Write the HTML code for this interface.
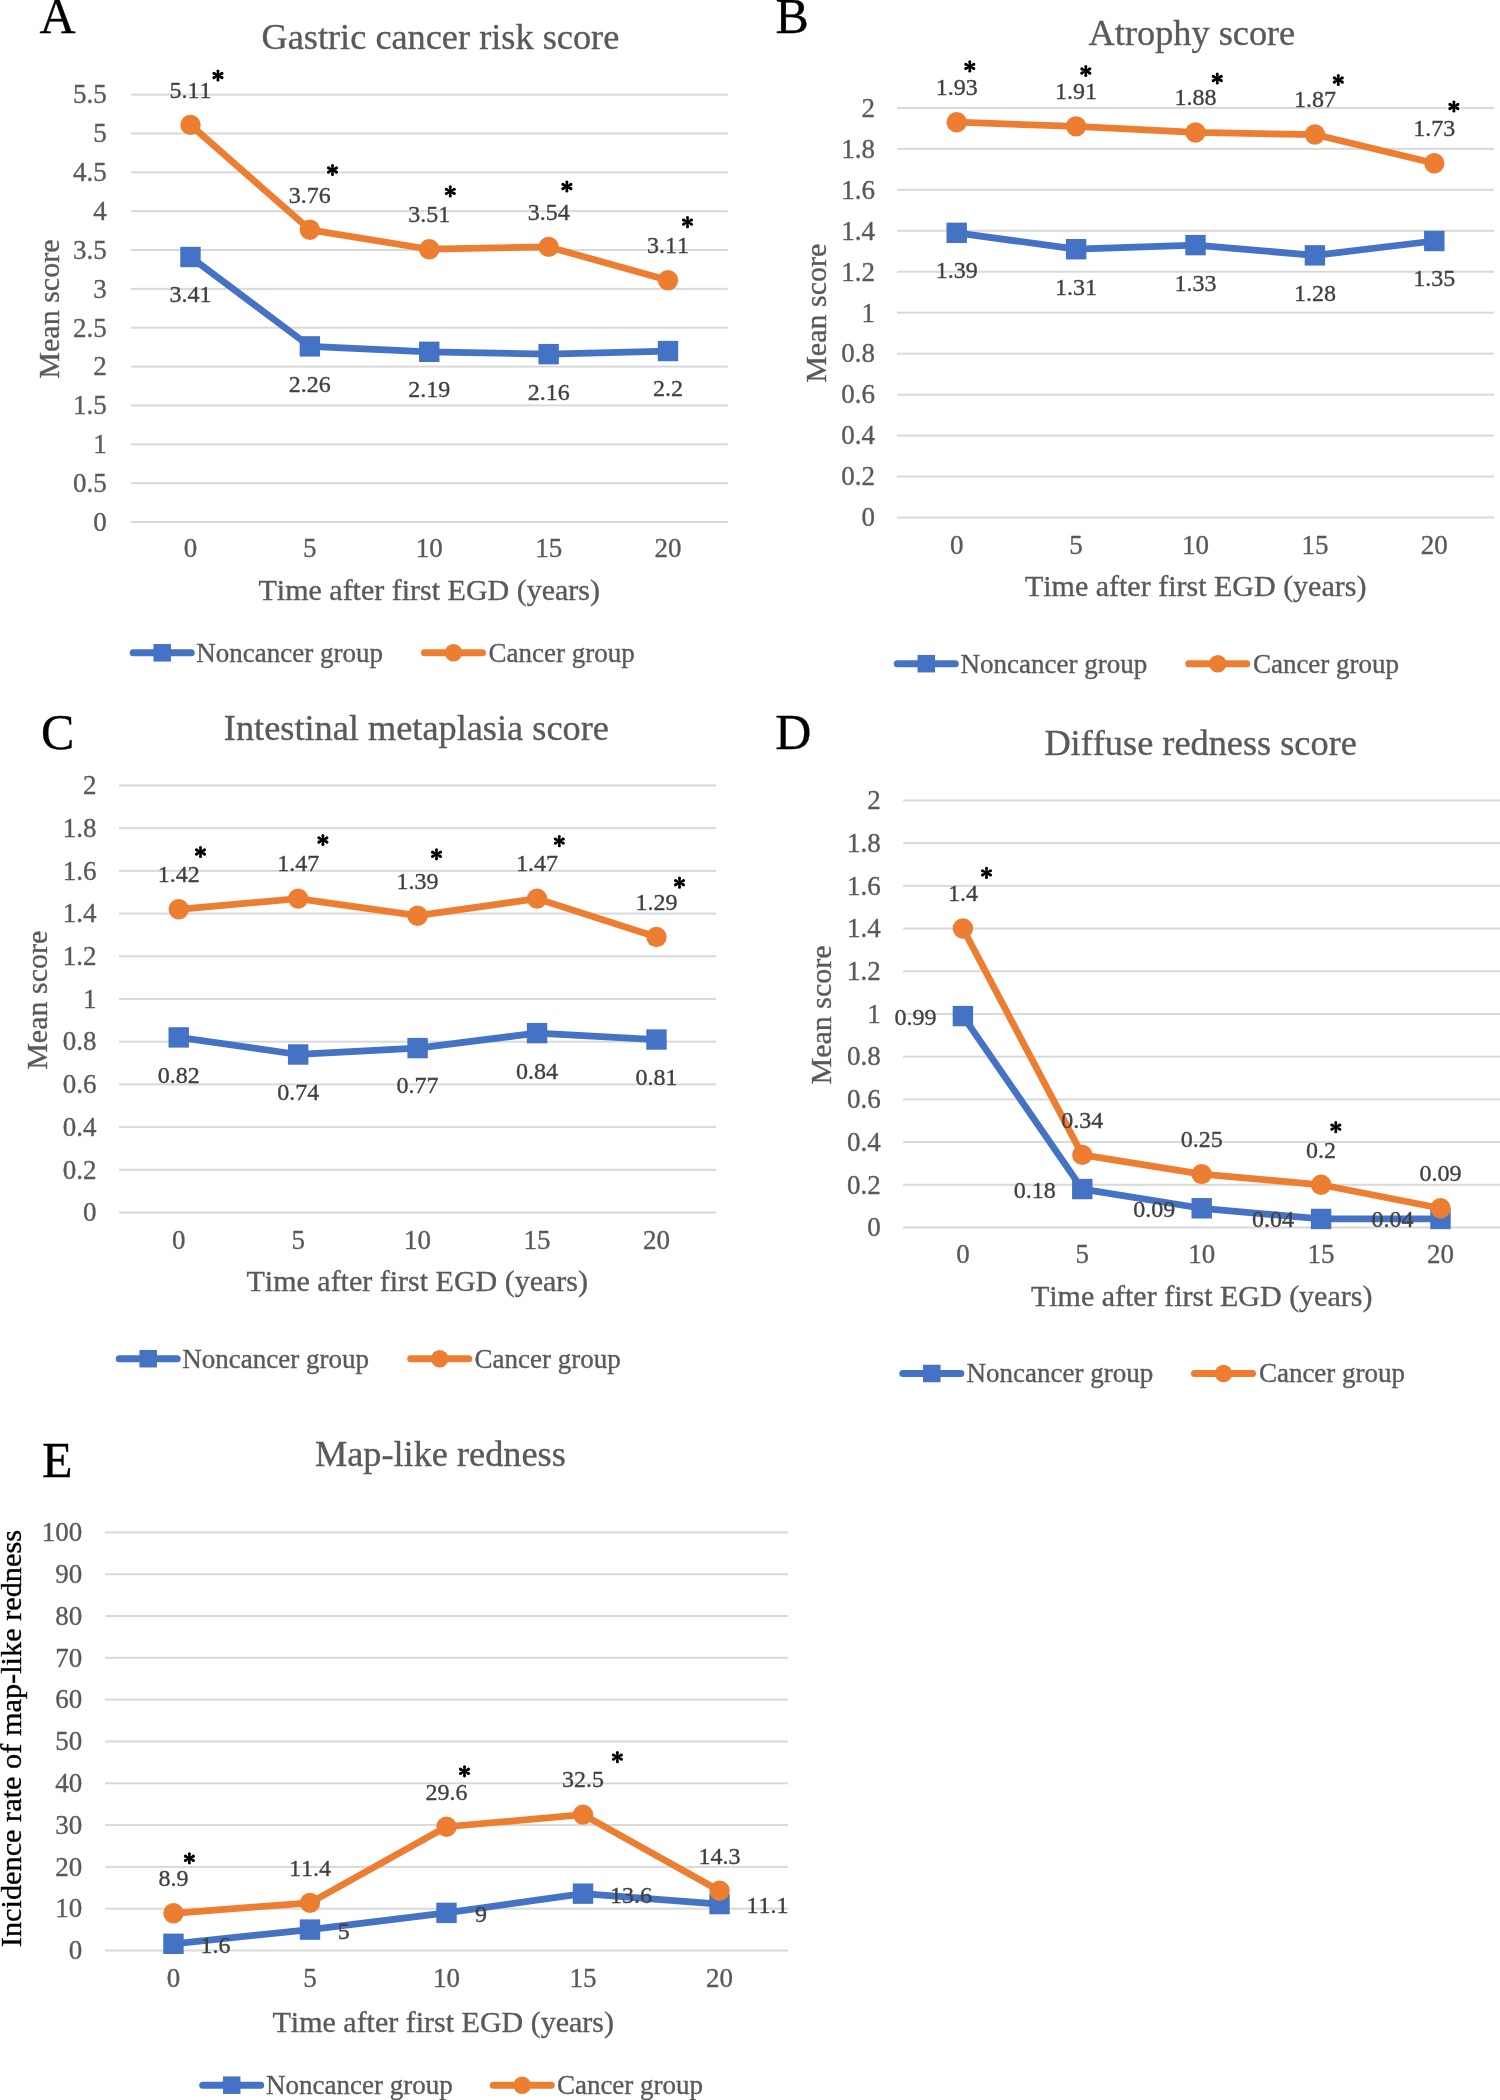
<!DOCTYPE html>
<html><head><meta charset="utf-8"><style>
html,body{margin:0;padding:0;background:#fff;width:1500px;height:2100px;overflow:hidden;}
svg{display:block;font-family:"Liberation Serif", serif;font-kerning:none;will-change:transform;}
text{stroke:currentColor;stroke-width:0.35px;stroke-linejoin:round;}
</style></head><body>
<svg width="1500" height="2100" viewBox="0 0 1500 2100">
<rect width="1500" height="2100" fill="#fff"/>
<rect x="130.8" y="521.00" width="596.90" height="2" fill="#D9D9D9"/>
<rect x="130.8" y="482.15" width="596.90" height="2" fill="#D9D9D9"/>
<rect x="130.8" y="443.29" width="596.90" height="2" fill="#D9D9D9"/>
<rect x="130.8" y="404.44" width="596.90" height="2" fill="#D9D9D9"/>
<rect x="130.8" y="365.58" width="596.90" height="2" fill="#D9D9D9"/>
<rect x="130.8" y="326.73" width="596.90" height="2" fill="#D9D9D9"/>
<rect x="130.8" y="287.87" width="596.90" height="2" fill="#D9D9D9"/>
<rect x="130.8" y="249.02" width="596.90" height="2" fill="#D9D9D9"/>
<rect x="130.8" y="210.16" width="596.90" height="2" fill="#D9D9D9"/>
<rect x="130.8" y="171.31" width="596.90" height="2" fill="#D9D9D9"/>
<rect x="130.8" y="132.45" width="596.90" height="2" fill="#D9D9D9"/>
<rect x="130.8" y="93.60" width="596.90" height="2" fill="#D9D9D9"/>
<text x="106.80" y="530.80" font-size="27" fill="#595959" color="#595959" text-anchor="end">0</text>
<text x="106.80" y="491.95" font-size="27" fill="#595959" color="#595959" text-anchor="end">0.5</text>
<text x="106.80" y="453.09" font-size="27" fill="#595959" color="#595959" text-anchor="end">1</text>
<text x="106.80" y="414.24" font-size="27" fill="#595959" color="#595959" text-anchor="end">1.5</text>
<text x="106.80" y="375.38" font-size="27" fill="#595959" color="#595959" text-anchor="end">2</text>
<text x="106.80" y="336.53" font-size="27" fill="#595959" color="#595959" text-anchor="end">2.5</text>
<text x="106.80" y="297.67" font-size="27" fill="#595959" color="#595959" text-anchor="end">3</text>
<text x="106.80" y="258.82" font-size="27" fill="#595959" color="#595959" text-anchor="end">3.5</text>
<text x="106.80" y="219.96" font-size="27" fill="#595959" color="#595959" text-anchor="end">4</text>
<text x="106.80" y="181.11" font-size="27" fill="#595959" color="#595959" text-anchor="end">4.5</text>
<text x="106.80" y="142.25" font-size="27" fill="#595959" color="#595959" text-anchor="end">5</text>
<text x="106.80" y="103.40" font-size="27" fill="#595959" color="#595959" text-anchor="end">5.5</text>
<text x="190.49" y="557.20" font-size="27" fill="#595959" color="#595959" text-anchor="middle">0</text>
<text x="309.87" y="557.20" font-size="27" fill="#595959" color="#595959" text-anchor="middle">5</text>
<text x="429.25" y="557.20" font-size="27" fill="#595959" color="#595959" text-anchor="middle">10</text>
<text x="548.63" y="557.20" font-size="27" fill="#595959" color="#595959" text-anchor="middle">15</text>
<text x="668.01" y="557.20" font-size="27" fill="#595959" color="#595959" text-anchor="middle">20</text>
<text x="258.50" y="600.10" font-size="30" fill="#595959" color="#595959" text-anchor="start">Time after first EGD (years)</text>
<text transform="translate(59.00,309.10) rotate(-90)" font-size="30" fill="#595959" color="#595959" text-anchor="middle">Mean score</text>
<text x="261.50" y="49.30" font-size="36.3" fill="#595959" color="#595959" text-anchor="start">Gastric cancer risk score</text>
<text x="39.50" y="32.80" font-size="50" fill="#000" color="#000" text-anchor="start">A</text>
<path d="M190.49 257.01 L309.87 346.38 L429.25 351.82 L548.63 354.15 L668.01 351.04" stroke="#4472C4" stroke-width="6.75" fill="none" stroke-linejoin="round" stroke-linecap="round"/>
<rect x="180.29" y="246.81" width="20.4" height="20.4" fill="#4472C4"/>
<rect x="299.67" y="336.18" width="20.4" height="20.4" fill="#4472C4"/>
<rect x="419.05" y="341.62" width="20.4" height="20.4" fill="#4472C4"/>
<rect x="538.43" y="343.95" width="20.4" height="20.4" fill="#4472C4"/>
<rect x="657.81" y="340.84" width="20.4" height="20.4" fill="#4472C4"/>
<path d="M190.49 124.91 L309.87 229.81 L429.25 249.24 L548.63 246.91 L668.01 280.32" stroke="#ED7D31" stroke-width="6.75" fill="none" stroke-linejoin="round" stroke-linecap="round"/>
<circle cx="190.49" cy="124.91" r="10.2" fill="#ED7D31"/>
<circle cx="309.87" cy="229.81" r="10.2" fill="#ED7D31"/>
<circle cx="429.25" cy="249.24" r="10.2" fill="#ED7D31"/>
<circle cx="548.63" cy="246.91" r="10.2" fill="#ED7D31"/>
<circle cx="668.01" cy="280.32" r="10.2" fill="#ED7D31"/>
<text x="190.49" y="97.71" font-size="24" fill="#404040" color="#404040" text-anchor="middle">5.11</text>
<text x="309.87" y="202.61" font-size="24" fill="#404040" color="#404040" text-anchor="middle">3.76</text>
<text x="429.25" y="222.04" font-size="24" fill="#404040" color="#404040" text-anchor="middle">3.51</text>
<text x="548.63" y="219.71" font-size="24" fill="#404040" color="#404040" text-anchor="middle">3.54</text>
<text x="668.01" y="253.12" font-size="24" fill="#404040" color="#404040" text-anchor="middle">3.11</text>
<text x="190.49" y="302.41" font-size="24" fill="#404040" color="#404040" text-anchor="middle">3.41</text>
<text x="309.87" y="391.78" font-size="24" fill="#404040" color="#404040" text-anchor="middle">2.26</text>
<text x="429.25" y="397.22" font-size="24" fill="#404040" color="#404040" text-anchor="middle">2.19</text>
<text x="548.63" y="399.55" font-size="24" fill="#404040" color="#404040" text-anchor="middle">2.16</text>
<text x="668.01" y="396.44" font-size="24" fill="#404040" color="#404040" text-anchor="middle">2.2</text>
<rect x="211.25" y="68.60" width="13.4" height="13.8" fill="#fff"/>
<path d="M218.70 75.50 L219.47 70.95 L216.43 70.95 L217.20 75.50ZM219.50 70.95A1.55 1.55 0 1 0 216.40 70.95A1.55 1.55 0 1 0 219.50 70.95ZM218.30 76.16 L222.68 74.71 L221.25 72.02 L217.60 74.84ZM223.52 73.36A1.55 1.55 0 1 0 220.42 73.36A1.55 1.55 0 1 0 223.52 73.36ZM217.60 76.16 L221.25 78.98 L222.68 76.29 L218.30 74.84ZM223.52 77.64A1.55 1.55 0 1 0 220.42 77.64A1.55 1.55 0 1 0 223.52 77.64ZM217.20 75.50 L216.43 80.05 L219.47 80.05 L218.70 75.50ZM219.50 80.05A1.55 1.55 0 1 0 216.40 80.05A1.55 1.55 0 1 0 219.50 80.05ZM217.60 74.84 L213.22 76.29 L214.65 78.98 L218.30 76.16ZM215.48 77.64A1.55 1.55 0 1 0 212.38 77.64A1.55 1.55 0 1 0 215.48 77.64ZM218.30 74.84 L214.65 72.02 L213.22 74.71 L217.60 76.16ZM215.48 73.36A1.55 1.55 0 1 0 212.38 73.36A1.55 1.55 0 1 0 215.48 73.36Z" fill="#000"/>
<rect x="325.80" y="163.10" width="13.4" height="13.8" fill="#fff"/>
<path d="M333.25 170.00 L334.02 165.45 L330.98 165.45 L331.75 170.00ZM334.05 165.45A1.55 1.55 0 1 0 330.95 165.45A1.55 1.55 0 1 0 334.05 165.45ZM332.85 170.66 L337.23 169.21 L335.80 166.52 L332.15 169.34ZM338.07 167.86A1.55 1.55 0 1 0 334.97 167.86A1.55 1.55 0 1 0 338.07 167.86ZM332.15 170.66 L335.80 173.48 L337.23 170.79 L332.85 169.34ZM338.07 172.14A1.55 1.55 0 1 0 334.97 172.14A1.55 1.55 0 1 0 338.07 172.14ZM331.75 170.00 L330.98 174.55 L334.02 174.55 L333.25 170.00ZM334.05 174.55A1.55 1.55 0 1 0 330.95 174.55A1.55 1.55 0 1 0 334.05 174.55ZM332.15 169.34 L327.77 170.79 L329.20 173.48 L332.85 170.66ZM330.03 172.14A1.55 1.55 0 1 0 326.93 172.14A1.55 1.55 0 1 0 330.03 172.14ZM332.85 169.34 L329.20 166.52 L327.77 169.21 L332.15 170.66ZM330.03 167.86A1.55 1.55 0 1 0 326.93 167.86A1.55 1.55 0 1 0 330.03 167.86Z" fill="#000"/>
<rect x="443.60" y="184.50" width="13.4" height="13.8" fill="#fff"/>
<path d="M451.05 191.40 L451.82 186.85 L448.78 186.85 L449.55 191.40ZM451.85 186.85A1.55 1.55 0 1 0 448.75 186.85A1.55 1.55 0 1 0 451.85 186.85ZM450.65 192.06 L455.03 190.61 L453.60 187.92 L449.95 190.74ZM455.87 189.26A1.55 1.55 0 1 0 452.77 189.26A1.55 1.55 0 1 0 455.87 189.26ZM449.95 192.06 L453.60 194.88 L455.03 192.19 L450.65 190.74ZM455.87 193.54A1.55 1.55 0 1 0 452.77 193.54A1.55 1.55 0 1 0 455.87 193.54ZM449.55 191.40 L448.78 195.95 L451.82 195.95 L451.05 191.40ZM451.85 195.95A1.55 1.55 0 1 0 448.75 195.95A1.55 1.55 0 1 0 451.85 195.95ZM449.95 190.74 L445.57 192.19 L447.00 194.88 L450.65 192.06ZM447.83 193.54A1.55 1.55 0 1 0 444.73 193.54A1.55 1.55 0 1 0 447.83 193.54ZM450.65 190.74 L447.00 187.92 L445.57 190.61 L449.95 192.06ZM447.83 189.26A1.55 1.55 0 1 0 444.73 189.26A1.55 1.55 0 1 0 447.83 189.26Z" fill="#000"/>
<rect x="560.20" y="179.60" width="13.4" height="13.8" fill="#fff"/>
<path d="M567.65 186.50 L568.42 181.95 L565.38 181.95 L566.15 186.50ZM568.45 181.95A1.55 1.55 0 1 0 565.35 181.95A1.55 1.55 0 1 0 568.45 181.95ZM567.25 187.16 L571.63 185.71 L570.20 183.02 L566.55 185.84ZM572.47 184.36A1.55 1.55 0 1 0 569.37 184.36A1.55 1.55 0 1 0 572.47 184.36ZM566.55 187.16 L570.20 189.98 L571.63 187.29 L567.25 185.84ZM572.47 188.64A1.55 1.55 0 1 0 569.37 188.64A1.55 1.55 0 1 0 572.47 188.64ZM566.15 186.50 L565.38 191.05 L568.42 191.05 L567.65 186.50ZM568.45 191.05A1.55 1.55 0 1 0 565.35 191.05A1.55 1.55 0 1 0 568.45 191.05ZM566.55 185.84 L562.17 187.29 L563.60 189.98 L567.25 187.16ZM564.43 188.64A1.55 1.55 0 1 0 561.33 188.64A1.55 1.55 0 1 0 564.43 188.64ZM567.25 185.84 L563.60 183.02 L562.17 185.71 L566.55 187.16ZM564.43 184.36A1.55 1.55 0 1 0 561.33 184.36A1.55 1.55 0 1 0 564.43 184.36Z" fill="#000"/>
<rect x="680.80" y="215.20" width="13.4" height="13.8" fill="#fff"/>
<path d="M688.25 222.10 L689.02 217.55 L685.98 217.55 L686.75 222.10ZM689.05 217.55A1.55 1.55 0 1 0 685.95 217.55A1.55 1.55 0 1 0 689.05 217.55ZM687.85 222.76 L692.23 221.31 L690.80 218.62 L687.15 221.44ZM693.07 219.96A1.55 1.55 0 1 0 689.97 219.96A1.55 1.55 0 1 0 693.07 219.96ZM687.15 222.76 L690.80 225.58 L692.23 222.89 L687.85 221.44ZM693.07 224.24A1.55 1.55 0 1 0 689.97 224.24A1.55 1.55 0 1 0 693.07 224.24ZM686.75 222.10 L685.98 226.65 L689.02 226.65 L688.25 222.10ZM689.05 226.65A1.55 1.55 0 1 0 685.95 226.65A1.55 1.55 0 1 0 689.05 226.65ZM687.15 221.44 L682.77 222.89 L684.20 225.58 L687.85 222.76ZM685.03 224.24A1.55 1.55 0 1 0 681.93 224.24A1.55 1.55 0 1 0 685.03 224.24ZM687.85 221.44 L684.20 218.62 L682.77 221.31 L687.15 222.76ZM685.03 219.96A1.55 1.55 0 1 0 681.93 219.96A1.55 1.55 0 1 0 685.03 219.96Z" fill="#000"/>
<line x1="133.2" y1="652.8" x2="191.2" y2="652.8" stroke="#4472C4" stroke-width="7" stroke-linecap="round"/>
<rect x="153.45" y="644.05" width="17.5" height="17.5" fill="#4472C4"/>
<text x="196.25" y="661.70" font-size="27" fill="#595959" color="#595959" text-anchor="start">Noncancer group</text>
<line x1="424.5" y1="652.8" x2="482.5" y2="652.8" stroke="#ED7D31" stroke-width="7" stroke-linecap="round"/>
<circle cx="453.50" cy="652.8" r="8.75" fill="#ED7D31"/>
<text x="488.60" y="661.70" font-size="27" fill="#595959" color="#595959" text-anchor="start">Cancer group</text>
<rect x="897" y="516.50" width="597.00" height="2" fill="#D9D9D9"/>
<rect x="897" y="475.54" width="597.00" height="2" fill="#D9D9D9"/>
<rect x="897" y="434.58" width="597.00" height="2" fill="#D9D9D9"/>
<rect x="897" y="393.62" width="597.00" height="2" fill="#D9D9D9"/>
<rect x="897" y="352.66" width="597.00" height="2" fill="#D9D9D9"/>
<rect x="897" y="311.70" width="597.00" height="2" fill="#D9D9D9"/>
<rect x="897" y="270.74" width="597.00" height="2" fill="#D9D9D9"/>
<rect x="897" y="229.78" width="597.00" height="2" fill="#D9D9D9"/>
<rect x="897" y="188.82" width="597.00" height="2" fill="#D9D9D9"/>
<rect x="897" y="147.86" width="597.00" height="2" fill="#D9D9D9"/>
<rect x="897" y="106.90" width="597.00" height="2" fill="#D9D9D9"/>
<text x="875.10" y="526.30" font-size="27" fill="#595959" color="#595959" text-anchor="end">0</text>
<text x="875.10" y="485.34" font-size="27" fill="#595959" color="#595959" text-anchor="end">0.2</text>
<text x="875.10" y="444.38" font-size="27" fill="#595959" color="#595959" text-anchor="end">0.4</text>
<text x="875.10" y="403.42" font-size="27" fill="#595959" color="#595959" text-anchor="end">0.6</text>
<text x="875.10" y="362.46" font-size="27" fill="#595959" color="#595959" text-anchor="end">0.8</text>
<text x="875.10" y="321.50" font-size="27" fill="#595959" color="#595959" text-anchor="end">1</text>
<text x="875.10" y="280.54" font-size="27" fill="#595959" color="#595959" text-anchor="end">1.2</text>
<text x="875.10" y="239.58" font-size="27" fill="#595959" color="#595959" text-anchor="end">1.4</text>
<text x="875.10" y="198.62" font-size="27" fill="#595959" color="#595959" text-anchor="end">1.6</text>
<text x="875.10" y="157.66" font-size="27" fill="#595959" color="#595959" text-anchor="end">1.8</text>
<text x="875.10" y="116.70" font-size="27" fill="#595959" color="#595959" text-anchor="end">2</text>
<text x="956.70" y="553.50" font-size="27" fill="#595959" color="#595959" text-anchor="middle">0</text>
<text x="1076.10" y="553.50" font-size="27" fill="#595959" color="#595959" text-anchor="middle">5</text>
<text x="1195.50" y="553.50" font-size="27" fill="#595959" color="#595959" text-anchor="middle">10</text>
<text x="1314.90" y="553.50" font-size="27" fill="#595959" color="#595959" text-anchor="middle">15</text>
<text x="1434.30" y="553.50" font-size="27" fill="#595959" color="#595959" text-anchor="middle">20</text>
<text x="1024.90" y="595.80" font-size="30" fill="#595959" color="#595959" text-anchor="start">Time after first EGD (years)</text>
<text transform="translate(825.50,313.30) rotate(-90)" font-size="30" fill="#595959" color="#595959" text-anchor="middle">Mean score</text>
<text x="1088.60" y="44.70" font-size="36.3" fill="#595959" color="#595959" text-anchor="start">Atrophy score</text>
<text x="775.50" y="32.80" font-size="50" fill="#000" color="#000" text-anchor="start">B</text>
<path d="M956.70 232.83 L1076.10 249.21 L1195.50 245.12 L1314.90 255.36 L1434.30 241.02" stroke="#4472C4" stroke-width="6.75" fill="none" stroke-linejoin="round" stroke-linecap="round"/>
<rect x="946.50" y="222.63" width="20.4" height="20.4" fill="#4472C4"/>
<rect x="1065.90" y="239.01" width="20.4" height="20.4" fill="#4472C4"/>
<rect x="1185.30" y="234.92" width="20.4" height="20.4" fill="#4472C4"/>
<rect x="1304.70" y="245.16" width="20.4" height="20.4" fill="#4472C4"/>
<rect x="1424.10" y="230.82" width="20.4" height="20.4" fill="#4472C4"/>
<path d="M956.70 122.24 L1076.10 126.33 L1195.50 132.48 L1314.90 134.52 L1434.30 163.20" stroke="#ED7D31" stroke-width="6.75" fill="none" stroke-linejoin="round" stroke-linecap="round"/>
<circle cx="956.70" cy="122.24" r="10.2" fill="#ED7D31"/>
<circle cx="1076.10" cy="126.33" r="10.2" fill="#ED7D31"/>
<circle cx="1195.50" cy="132.48" r="10.2" fill="#ED7D31"/>
<circle cx="1314.90" cy="134.52" r="10.2" fill="#ED7D31"/>
<circle cx="1434.30" cy="163.20" r="10.2" fill="#ED7D31"/>
<text x="956.70" y="95.04" font-size="24" fill="#404040" color="#404040" text-anchor="middle">1.93</text>
<text x="1076.10" y="99.13" font-size="24" fill="#404040" color="#404040" text-anchor="middle">1.91</text>
<text x="1195.50" y="105.28" font-size="24" fill="#404040" color="#404040" text-anchor="middle">1.88</text>
<text x="1314.90" y="107.32" font-size="24" fill="#404040" color="#404040" text-anchor="middle">1.87</text>
<text x="1434.30" y="136.00" font-size="24" fill="#404040" color="#404040" text-anchor="middle">1.73</text>
<text x="956.70" y="278.23" font-size="24" fill="#404040" color="#404040" text-anchor="middle">1.39</text>
<text x="1076.10" y="294.61" font-size="24" fill="#404040" color="#404040" text-anchor="middle">1.31</text>
<text x="1195.50" y="290.52" font-size="24" fill="#404040" color="#404040" text-anchor="middle">1.33</text>
<text x="1314.90" y="300.76" font-size="24" fill="#404040" color="#404040" text-anchor="middle">1.28</text>
<text x="1434.30" y="286.42" font-size="24" fill="#404040" color="#404040" text-anchor="middle">1.35</text>
<rect x="963.10" y="59.50" width="13.4" height="13.8" fill="#fff"/>
<path d="M970.55 66.40 L971.32 61.85 L968.28 61.85 L969.05 66.40ZM971.35 61.85A1.55 1.55 0 1 0 968.25 61.85A1.55 1.55 0 1 0 971.35 61.85ZM970.15 67.06 L974.53 65.61 L973.10 62.92 L969.45 65.74ZM975.37 64.26A1.55 1.55 0 1 0 972.27 64.26A1.55 1.55 0 1 0 975.37 64.26ZM969.45 67.06 L973.10 69.88 L974.53 67.19 L970.15 65.74ZM975.37 68.54A1.55 1.55 0 1 0 972.27 68.54A1.55 1.55 0 1 0 975.37 68.54ZM969.05 66.40 L968.28 70.95 L971.32 70.95 L970.55 66.40ZM971.35 70.95A1.55 1.55 0 1 0 968.25 70.95A1.55 1.55 0 1 0 971.35 70.95ZM969.45 65.74 L965.07 67.19 L966.50 69.88 L970.15 67.06ZM967.33 68.54A1.55 1.55 0 1 0 964.23 68.54A1.55 1.55 0 1 0 967.33 68.54ZM970.15 65.74 L966.50 62.92 L965.07 65.61 L969.45 67.06ZM967.33 64.26A1.55 1.55 0 1 0 964.23 64.26A1.55 1.55 0 1 0 967.33 64.26Z" fill="#000"/>
<rect x="1079.10" y="64.10" width="13.4" height="13.8" fill="#fff"/>
<path d="M1086.55 71.00 L1087.32 66.45 L1084.28 66.45 L1085.05 71.00ZM1087.35 66.45A1.55 1.55 0 1 0 1084.25 66.45A1.55 1.55 0 1 0 1087.35 66.45ZM1086.15 71.66 L1090.53 70.21 L1089.10 67.52 L1085.45 70.34ZM1091.37 68.86A1.55 1.55 0 1 0 1088.27 68.86A1.55 1.55 0 1 0 1091.37 68.86ZM1085.45 71.66 L1089.10 74.48 L1090.53 71.79 L1086.15 70.34ZM1091.37 73.14A1.55 1.55 0 1 0 1088.27 73.14A1.55 1.55 0 1 0 1091.37 73.14ZM1085.05 71.00 L1084.28 75.55 L1087.32 75.55 L1086.55 71.00ZM1087.35 75.55A1.55 1.55 0 1 0 1084.25 75.55A1.55 1.55 0 1 0 1087.35 75.55ZM1085.45 70.34 L1081.07 71.79 L1082.50 74.48 L1086.15 71.66ZM1083.33 73.14A1.55 1.55 0 1 0 1080.23 73.14A1.55 1.55 0 1 0 1083.33 73.14ZM1086.15 70.34 L1082.50 67.52 L1081.07 70.21 L1085.45 71.66ZM1083.33 68.86A1.55 1.55 0 1 0 1080.23 68.86A1.55 1.55 0 1 0 1083.33 68.86Z" fill="#000"/>
<rect x="1210.60" y="71.60" width="13.4" height="13.8" fill="#fff"/>
<path d="M1218.05 78.50 L1218.82 73.95 L1215.78 73.95 L1216.55 78.50ZM1218.85 73.95A1.55 1.55 0 1 0 1215.75 73.95A1.55 1.55 0 1 0 1218.85 73.95ZM1217.65 79.16 L1222.03 77.71 L1220.60 75.02 L1216.95 77.84ZM1222.87 76.36A1.55 1.55 0 1 0 1219.77 76.36A1.55 1.55 0 1 0 1222.87 76.36ZM1216.95 79.16 L1220.60 81.98 L1222.03 79.29 L1217.65 77.84ZM1222.87 80.64A1.55 1.55 0 1 0 1219.77 80.64A1.55 1.55 0 1 0 1222.87 80.64ZM1216.55 78.50 L1215.78 83.05 L1218.82 83.05 L1218.05 78.50ZM1218.85 83.05A1.55 1.55 0 1 0 1215.75 83.05A1.55 1.55 0 1 0 1218.85 83.05ZM1216.95 77.84 L1212.57 79.29 L1214.00 81.98 L1217.65 79.16ZM1214.83 80.64A1.55 1.55 0 1 0 1211.73 80.64A1.55 1.55 0 1 0 1214.83 80.64ZM1217.65 77.84 L1214.00 75.02 L1212.57 77.71 L1216.95 79.16ZM1214.83 76.36A1.55 1.55 0 1 0 1211.73 76.36A1.55 1.55 0 1 0 1214.83 76.36Z" fill="#000"/>
<rect x="1331.60" y="73.10" width="13.4" height="13.8" fill="#fff"/>
<path d="M1339.05 80.00 L1339.82 75.45 L1336.78 75.45 L1337.55 80.00ZM1339.85 75.45A1.55 1.55 0 1 0 1336.75 75.45A1.55 1.55 0 1 0 1339.85 75.45ZM1338.65 80.66 L1343.03 79.21 L1341.60 76.52 L1337.95 79.34ZM1343.87 77.86A1.55 1.55 0 1 0 1340.77 77.86A1.55 1.55 0 1 0 1343.87 77.86ZM1337.95 80.66 L1341.60 83.48 L1343.03 80.79 L1338.65 79.34ZM1343.87 82.14A1.55 1.55 0 1 0 1340.77 82.14A1.55 1.55 0 1 0 1343.87 82.14ZM1337.55 80.00 L1336.78 84.55 L1339.82 84.55 L1339.05 80.00ZM1339.85 84.55A1.55 1.55 0 1 0 1336.75 84.55A1.55 1.55 0 1 0 1339.85 84.55ZM1337.95 79.34 L1333.57 80.79 L1335.00 83.48 L1338.65 80.66ZM1335.83 82.14A1.55 1.55 0 1 0 1332.73 82.14A1.55 1.55 0 1 0 1335.83 82.14ZM1338.65 79.34 L1335.00 76.52 L1333.57 79.21 L1337.95 80.66ZM1335.83 77.86A1.55 1.55 0 1 0 1332.73 77.86A1.55 1.55 0 1 0 1335.83 77.86Z" fill="#000"/>
<rect x="1447.20" y="99.60" width="13.4" height="13.8" fill="#fff"/>
<path d="M1454.65 106.50 L1455.42 101.95 L1452.38 101.95 L1453.15 106.50ZM1455.45 101.95A1.55 1.55 0 1 0 1452.35 101.95A1.55 1.55 0 1 0 1455.45 101.95ZM1454.25 107.16 L1458.63 105.71 L1457.20 103.02 L1453.55 105.84ZM1459.47 104.36A1.55 1.55 0 1 0 1456.37 104.36A1.55 1.55 0 1 0 1459.47 104.36ZM1453.55 107.16 L1457.20 109.98 L1458.63 107.29 L1454.25 105.84ZM1459.47 108.64A1.55 1.55 0 1 0 1456.37 108.64A1.55 1.55 0 1 0 1459.47 108.64ZM1453.15 106.50 L1452.38 111.05 L1455.42 111.05 L1454.65 106.50ZM1455.45 111.05A1.55 1.55 0 1 0 1452.35 111.05A1.55 1.55 0 1 0 1455.45 111.05ZM1453.55 105.84 L1449.17 107.29 L1450.60 109.98 L1454.25 107.16ZM1451.43 108.64A1.55 1.55 0 1 0 1448.33 108.64A1.55 1.55 0 1 0 1451.43 108.64ZM1454.25 105.84 L1450.60 103.02 L1449.17 105.71 L1453.55 107.16ZM1451.43 104.36A1.55 1.55 0 1 0 1448.33 104.36A1.55 1.55 0 1 0 1451.43 104.36Z" fill="#000"/>
<line x1="897.3" y1="663.7" x2="955.3" y2="663.7" stroke="#4472C4" stroke-width="7" stroke-linecap="round"/>
<rect x="917.55" y="654.95" width="17.5" height="17.5" fill="#4472C4"/>
<text x="960.50" y="672.70" font-size="27" fill="#595959" color="#595959" text-anchor="start">Noncancer group</text>
<line x1="1188.8" y1="663.7" x2="1246.8" y2="663.7" stroke="#ED7D31" stroke-width="7" stroke-linecap="round"/>
<circle cx="1217.80" cy="663.7" r="8.75" fill="#ED7D31"/>
<text x="1252.90" y="672.70" font-size="27" fill="#595959" color="#595959" text-anchor="start">Cancer group</text>
<rect x="119" y="1211.50" width="597.20" height="2" fill="#D9D9D9"/>
<rect x="119" y="1168.80" width="597.20" height="2" fill="#D9D9D9"/>
<rect x="119" y="1126.09" width="597.20" height="2" fill="#D9D9D9"/>
<rect x="119" y="1083.38" width="597.20" height="2" fill="#D9D9D9"/>
<rect x="119" y="1040.68" width="597.20" height="2" fill="#D9D9D9"/>
<rect x="119" y="997.98" width="597.20" height="2" fill="#D9D9D9"/>
<rect x="119" y="955.27" width="597.20" height="2" fill="#D9D9D9"/>
<rect x="119" y="912.57" width="597.20" height="2" fill="#D9D9D9"/>
<rect x="119" y="869.86" width="597.20" height="2" fill="#D9D9D9"/>
<rect x="119" y="827.15" width="597.20" height="2" fill="#D9D9D9"/>
<rect x="119" y="784.45" width="597.20" height="2" fill="#D9D9D9"/>
<text x="96.50" y="1221.30" font-size="27" fill="#595959" color="#595959" text-anchor="end">0</text>
<text x="96.50" y="1178.60" font-size="27" fill="#595959" color="#595959" text-anchor="end">0.2</text>
<text x="96.50" y="1135.89" font-size="27" fill="#595959" color="#595959" text-anchor="end">0.4</text>
<text x="96.50" y="1093.18" font-size="27" fill="#595959" color="#595959" text-anchor="end">0.6</text>
<text x="96.50" y="1050.48" font-size="27" fill="#595959" color="#595959" text-anchor="end">0.8</text>
<text x="96.50" y="1007.77" font-size="27" fill="#595959" color="#595959" text-anchor="end">1</text>
<text x="96.50" y="965.07" font-size="27" fill="#595959" color="#595959" text-anchor="end">1.2</text>
<text x="96.50" y="922.37" font-size="27" fill="#595959" color="#595959" text-anchor="end">1.4</text>
<text x="96.50" y="879.66" font-size="27" fill="#595959" color="#595959" text-anchor="end">1.6</text>
<text x="96.50" y="836.95" font-size="27" fill="#595959" color="#595959" text-anchor="end">1.8</text>
<text x="96.50" y="794.25" font-size="27" fill="#595959" color="#595959" text-anchor="end">2</text>
<text x="178.72" y="1248.50" font-size="27" fill="#595959" color="#595959" text-anchor="middle">0</text>
<text x="298.16" y="1248.50" font-size="27" fill="#595959" color="#595959" text-anchor="middle">5</text>
<text x="417.60" y="1248.50" font-size="27" fill="#595959" color="#595959" text-anchor="middle">10</text>
<text x="537.04" y="1248.50" font-size="27" fill="#595959" color="#595959" text-anchor="middle">15</text>
<text x="656.48" y="1248.50" font-size="27" fill="#595959" color="#595959" text-anchor="middle">20</text>
<text x="246.50" y="1291.00" font-size="30" fill="#595959" color="#595959" text-anchor="start">Time after first EGD (years)</text>
<text transform="translate(47.00,1000.30) rotate(-90)" font-size="30" fill="#595959" color="#595959" text-anchor="middle">Mean score</text>
<text x="223.85" y="739.90" font-size="36.3" fill="#595959" color="#595959" text-anchor="start">Intestinal metaplasia score</text>
<text x="41.00" y="749.30" font-size="50" fill="#000" color="#000" text-anchor="start">C</text>
<path d="M178.72 1037.41 L298.16 1054.49 L417.60 1048.09 L537.04 1033.14 L656.48 1039.54" stroke="#4472C4" stroke-width="6.75" fill="none" stroke-linejoin="round" stroke-linecap="round"/>
<rect x="168.52" y="1027.21" width="20.4" height="20.4" fill="#4472C4"/>
<rect x="287.96" y="1044.29" width="20.4" height="20.4" fill="#4472C4"/>
<rect x="407.40" y="1037.89" width="20.4" height="20.4" fill="#4472C4"/>
<rect x="526.84" y="1022.94" width="20.4" height="20.4" fill="#4472C4"/>
<rect x="646.28" y="1029.34" width="20.4" height="20.4" fill="#4472C4"/>
<path d="M178.72 909.29 L298.16 898.62 L417.60 915.70 L537.04 898.62 L656.48 937.05" stroke="#ED7D31" stroke-width="6.75" fill="none" stroke-linejoin="round" stroke-linecap="round"/>
<circle cx="178.72" cy="909.29" r="10.2" fill="#ED7D31"/>
<circle cx="298.16" cy="898.62" r="10.2" fill="#ED7D31"/>
<circle cx="417.60" cy="915.70" r="10.2" fill="#ED7D31"/>
<circle cx="537.04" cy="898.62" r="10.2" fill="#ED7D31"/>
<circle cx="656.48" cy="937.05" r="10.2" fill="#ED7D31"/>
<text x="178.72" y="882.09" font-size="24" fill="#404040" color="#404040" text-anchor="middle">1.42</text>
<text x="298.16" y="871.42" font-size="24" fill="#404040" color="#404040" text-anchor="middle">1.47</text>
<text x="417.60" y="888.50" font-size="24" fill="#404040" color="#404040" text-anchor="middle">1.39</text>
<text x="537.04" y="871.42" font-size="24" fill="#404040" color="#404040" text-anchor="middle">1.47</text>
<text x="656.48" y="909.85" font-size="24" fill="#404040" color="#404040" text-anchor="middle">1.29</text>
<text x="178.72" y="1082.81" font-size="24" fill="#404040" color="#404040" text-anchor="middle">0.82</text>
<text x="298.16" y="1099.89" font-size="24" fill="#404040" color="#404040" text-anchor="middle">0.74</text>
<text x="417.60" y="1093.49" font-size="24" fill="#404040" color="#404040" text-anchor="middle">0.77</text>
<text x="537.04" y="1078.54" font-size="24" fill="#404040" color="#404040" text-anchor="middle">0.84</text>
<text x="656.48" y="1084.94" font-size="24" fill="#404040" color="#404040" text-anchor="middle">0.81</text>
<rect x="193.80" y="845.10" width="13.4" height="13.8" fill="#fff"/>
<path d="M201.25 852.00 L202.02 847.45 L198.98 847.45 L199.75 852.00ZM202.05 847.45A1.55 1.55 0 1 0 198.95 847.45A1.55 1.55 0 1 0 202.05 847.45ZM200.85 852.66 L205.23 851.21 L203.80 848.52 L200.15 851.34ZM206.07 849.86A1.55 1.55 0 1 0 202.97 849.86A1.55 1.55 0 1 0 206.07 849.86ZM200.15 852.66 L203.80 855.48 L205.23 852.79 L200.85 851.34ZM206.07 854.14A1.55 1.55 0 1 0 202.97 854.14A1.55 1.55 0 1 0 206.07 854.14ZM199.75 852.00 L198.98 856.55 L202.02 856.55 L201.25 852.00ZM202.05 856.55A1.55 1.55 0 1 0 198.95 856.55A1.55 1.55 0 1 0 202.05 856.55ZM200.15 851.34 L195.77 852.79 L197.20 855.48 L200.85 852.66ZM198.03 854.14A1.55 1.55 0 1 0 194.93 854.14A1.55 1.55 0 1 0 198.03 854.14ZM200.85 851.34 L197.20 848.52 L195.77 851.21 L200.15 852.66ZM198.03 849.86A1.55 1.55 0 1 0 194.93 849.86A1.55 1.55 0 1 0 198.03 849.86Z" fill="#000"/>
<rect x="316.20" y="833.10" width="13.4" height="13.8" fill="#fff"/>
<path d="M323.65 840.00 L324.42 835.45 L321.38 835.45 L322.15 840.00ZM324.45 835.45A1.55 1.55 0 1 0 321.35 835.45A1.55 1.55 0 1 0 324.45 835.45ZM323.25 840.66 L327.63 839.21 L326.20 836.52 L322.55 839.34ZM328.47 837.86A1.55 1.55 0 1 0 325.37 837.86A1.55 1.55 0 1 0 328.47 837.86ZM322.55 840.66 L326.20 843.48 L327.63 840.79 L323.25 839.34ZM328.47 842.14A1.55 1.55 0 1 0 325.37 842.14A1.55 1.55 0 1 0 328.47 842.14ZM322.15 840.00 L321.38 844.55 L324.42 844.55 L323.65 840.00ZM324.45 844.55A1.55 1.55 0 1 0 321.35 844.55A1.55 1.55 0 1 0 324.45 844.55ZM322.55 839.34 L318.17 840.79 L319.60 843.48 L323.25 840.66ZM320.43 842.14A1.55 1.55 0 1 0 317.33 842.14A1.55 1.55 0 1 0 320.43 842.14ZM323.25 839.34 L319.60 836.52 L318.17 839.21 L322.55 840.66ZM320.43 837.86A1.55 1.55 0 1 0 317.33 837.86A1.55 1.55 0 1 0 320.43 837.86Z" fill="#000"/>
<rect x="429.80" y="847.40" width="13.4" height="13.8" fill="#fff"/>
<path d="M437.25 854.30 L438.02 849.75 L434.98 849.75 L435.75 854.30ZM438.05 849.75A1.55 1.55 0 1 0 434.95 849.75A1.55 1.55 0 1 0 438.05 849.75ZM436.85 854.96 L441.23 853.51 L439.80 850.82 L436.15 853.64ZM442.07 852.16A1.55 1.55 0 1 0 438.97 852.16A1.55 1.55 0 1 0 442.07 852.16ZM436.15 854.96 L439.80 857.78 L441.23 855.09 L436.85 853.64ZM442.07 856.44A1.55 1.55 0 1 0 438.97 856.44A1.55 1.55 0 1 0 442.07 856.44ZM435.75 854.30 L434.98 858.85 L438.02 858.85 L437.25 854.30ZM438.05 858.85A1.55 1.55 0 1 0 434.95 858.85A1.55 1.55 0 1 0 438.05 858.85ZM436.15 853.64 L431.77 855.09 L433.20 857.78 L436.85 854.96ZM434.03 856.44A1.55 1.55 0 1 0 430.93 856.44A1.55 1.55 0 1 0 434.03 856.44ZM436.85 853.64 L433.20 850.82 L431.77 853.51 L436.15 854.96ZM434.03 852.16A1.55 1.55 0 1 0 430.93 852.16A1.55 1.55 0 1 0 434.03 852.16Z" fill="#000"/>
<rect x="552.60" y="834.20" width="13.4" height="13.8" fill="#fff"/>
<path d="M560.05 841.10 L560.82 836.55 L557.78 836.55 L558.55 841.10ZM560.85 836.55A1.55 1.55 0 1 0 557.75 836.55A1.55 1.55 0 1 0 560.85 836.55ZM559.65 841.76 L564.03 840.31 L562.60 837.62 L558.95 840.44ZM564.87 838.96A1.55 1.55 0 1 0 561.77 838.96A1.55 1.55 0 1 0 564.87 838.96ZM558.95 841.76 L562.60 844.58 L564.03 841.89 L559.65 840.44ZM564.87 843.24A1.55 1.55 0 1 0 561.77 843.24A1.55 1.55 0 1 0 564.87 843.24ZM558.55 841.10 L557.78 845.65 L560.82 845.65 L560.05 841.10ZM560.85 845.65A1.55 1.55 0 1 0 557.75 845.65A1.55 1.55 0 1 0 560.85 845.65ZM558.95 840.44 L554.57 841.89 L556.00 844.58 L559.65 841.76ZM556.83 843.24A1.55 1.55 0 1 0 553.73 843.24A1.55 1.55 0 1 0 556.83 843.24ZM559.65 840.44 L556.00 837.62 L554.57 840.31 L558.95 841.76ZM556.83 838.96A1.55 1.55 0 1 0 553.73 838.96A1.55 1.55 0 1 0 556.83 838.96Z" fill="#000"/>
<rect x="672.80" y="875.80" width="13.4" height="13.8" fill="#fff"/>
<path d="M680.25 882.70 L681.02 878.15 L677.98 878.15 L678.75 882.70ZM681.05 878.15A1.55 1.55 0 1 0 677.95 878.15A1.55 1.55 0 1 0 681.05 878.15ZM679.85 883.36 L684.23 881.91 L682.80 879.22 L679.15 882.04ZM685.07 880.56A1.55 1.55 0 1 0 681.97 880.56A1.55 1.55 0 1 0 685.07 880.56ZM679.15 883.36 L682.80 886.18 L684.23 883.49 L679.85 882.04ZM685.07 884.84A1.55 1.55 0 1 0 681.97 884.84A1.55 1.55 0 1 0 685.07 884.84ZM678.75 882.70 L677.98 887.25 L681.02 887.25 L680.25 882.70ZM681.05 887.25A1.55 1.55 0 1 0 677.95 887.25A1.55 1.55 0 1 0 681.05 887.25ZM679.15 882.04 L674.77 883.49 L676.20 886.18 L679.85 883.36ZM677.03 884.84A1.55 1.55 0 1 0 673.93 884.84A1.55 1.55 0 1 0 677.03 884.84ZM679.85 882.04 L676.20 879.22 L674.77 881.91 L679.15 883.36ZM677.03 880.56A1.55 1.55 0 1 0 673.93 880.56A1.55 1.55 0 1 0 677.03 880.56Z" fill="#000"/>
<line x1="119.2" y1="1358.7" x2="177.2" y2="1358.7" stroke="#4472C4" stroke-width="7" stroke-linecap="round"/>
<rect x="139.45" y="1349.95" width="17.5" height="17.5" fill="#4472C4"/>
<text x="182.25" y="1367.70" font-size="27" fill="#595959" color="#595959" text-anchor="start">Noncancer group</text>
<line x1="410.7" y1="1358.7" x2="468.7" y2="1358.7" stroke="#ED7D31" stroke-width="7" stroke-linecap="round"/>
<circle cx="439.70" cy="1358.7" r="8.75" fill="#ED7D31"/>
<text x="474.60" y="1367.70" font-size="27" fill="#595959" color="#595959" text-anchor="start">Cancer group</text>
<rect x="903.2" y="1226.50" width="596.80" height="2" fill="#D9D9D9"/>
<rect x="903.2" y="1183.79" width="596.80" height="2" fill="#D9D9D9"/>
<rect x="903.2" y="1141.08" width="596.80" height="2" fill="#D9D9D9"/>
<rect x="903.2" y="1098.37" width="596.80" height="2" fill="#D9D9D9"/>
<rect x="903.2" y="1055.66" width="596.80" height="2" fill="#D9D9D9"/>
<rect x="903.2" y="1012.95" width="596.80" height="2" fill="#D9D9D9"/>
<rect x="903.2" y="970.24" width="596.80" height="2" fill="#D9D9D9"/>
<rect x="903.2" y="927.53" width="596.80" height="2" fill="#D9D9D9"/>
<rect x="903.2" y="884.82" width="596.80" height="2" fill="#D9D9D9"/>
<rect x="903.2" y="842.11" width="596.80" height="2" fill="#D9D9D9"/>
<rect x="903.2" y="799.40" width="596.80" height="2" fill="#D9D9D9"/>
<text x="880.80" y="1236.30" font-size="27" fill="#595959" color="#595959" text-anchor="end">0</text>
<text x="880.80" y="1193.59" font-size="27" fill="#595959" color="#595959" text-anchor="end">0.2</text>
<text x="880.80" y="1150.88" font-size="27" fill="#595959" color="#595959" text-anchor="end">0.4</text>
<text x="880.80" y="1108.17" font-size="27" fill="#595959" color="#595959" text-anchor="end">0.6</text>
<text x="880.80" y="1065.46" font-size="27" fill="#595959" color="#595959" text-anchor="end">0.8</text>
<text x="880.80" y="1022.75" font-size="27" fill="#595959" color="#595959" text-anchor="end">1</text>
<text x="880.80" y="980.04" font-size="27" fill="#595959" color="#595959" text-anchor="end">1.2</text>
<text x="880.80" y="937.33" font-size="27" fill="#595959" color="#595959" text-anchor="end">1.4</text>
<text x="880.80" y="894.62" font-size="27" fill="#595959" color="#595959" text-anchor="end">1.6</text>
<text x="880.80" y="851.91" font-size="27" fill="#595959" color="#595959" text-anchor="end">1.8</text>
<text x="880.80" y="809.20" font-size="27" fill="#595959" color="#595959" text-anchor="end">2</text>
<text x="962.90" y="1263.30" font-size="27" fill="#595959" color="#595959" text-anchor="middle">0</text>
<text x="1082.30" y="1263.30" font-size="27" fill="#595959" color="#595959" text-anchor="middle">5</text>
<text x="1201.70" y="1263.30" font-size="27" fill="#595959" color="#595959" text-anchor="middle">10</text>
<text x="1321.10" y="1263.30" font-size="27" fill="#595959" color="#595959" text-anchor="middle">15</text>
<text x="1440.50" y="1263.30" font-size="27" fill="#595959" color="#595959" text-anchor="middle">20</text>
<text x="1030.90" y="1305.80" font-size="30" fill="#595959" color="#595959" text-anchor="start">Time after first EGD (years)</text>
<text transform="translate(831.10,1014.90) rotate(-90)" font-size="30" fill="#595959" color="#595959" text-anchor="middle">Mean score</text>
<text x="1044.40" y="754.90" font-size="36.3" fill="#595959" color="#595959" text-anchor="start">Diffuse redness score</text>
<text x="775.30" y="749.00" font-size="50" fill="#000" color="#000" text-anchor="start">D</text>
<path d="M962.90 1016.09 L1082.30 1189.06 L1201.70 1208.28 L1321.10 1218.96 L1440.50 1218.96" stroke="#4472C4" stroke-width="6.75" fill="none" stroke-linejoin="round" stroke-linecap="round"/>
<rect x="952.70" y="1005.89" width="20.4" height="20.4" fill="#4472C4"/>
<rect x="1072.10" y="1178.86" width="20.4" height="20.4" fill="#4472C4"/>
<rect x="1191.50" y="1198.08" width="20.4" height="20.4" fill="#4472C4"/>
<rect x="1310.90" y="1208.76" width="20.4" height="20.4" fill="#4472C4"/>
<rect x="1430.30" y="1208.76" width="20.4" height="20.4" fill="#4472C4"/>
<path d="M962.90 928.53 L1082.30 1154.89 L1201.70 1174.11 L1321.10 1184.79 L1440.50 1208.28" stroke="#ED7D31" stroke-width="6.75" fill="none" stroke-linejoin="round" stroke-linecap="round"/>
<circle cx="962.90" cy="928.53" r="10.2" fill="#ED7D31"/>
<circle cx="1082.30" cy="1154.89" r="10.2" fill="#ED7D31"/>
<circle cx="1201.70" cy="1174.11" r="10.2" fill="#ED7D31"/>
<circle cx="1321.10" cy="1184.79" r="10.2" fill="#ED7D31"/>
<circle cx="1440.50" cy="1208.28" r="10.2" fill="#ED7D31"/>
<text x="962.90" y="901.33" font-size="24" fill="#404040" color="#404040" text-anchor="middle">1.4</text>
<text x="1082.30" y="1127.69" font-size="24" fill="#404040" color="#404040" text-anchor="middle">0.34</text>
<text x="1201.70" y="1146.91" font-size="24" fill="#404040" color="#404040" text-anchor="middle">0.25</text>
<text x="1321.10" y="1157.59" font-size="24" fill="#404040" color="#404040" text-anchor="middle">0.2</text>
<text x="1440.50" y="1181.08" font-size="24" fill="#404040" color="#404040" text-anchor="middle">0.09</text>
<text x="936.40" y="1024.59" font-size="24" fill="#404040" color="#404040" text-anchor="end">0.99</text>
<text x="1055.68" y="1197.56" font-size="24" fill="#404040" color="#404040" text-anchor="end">0.18</text>
<text x="1175.20" y="1216.78" font-size="24" fill="#404040" color="#404040" text-anchor="end">0.09</text>
<text x="1293.98" y="1227.46" font-size="24" fill="#404040" color="#404040" text-anchor="end">0.04</text>
<text x="1413.38" y="1227.46" font-size="24" fill="#404040" color="#404040" text-anchor="end">0.04</text>
<rect x="979.80" y="866.00" width="13.4" height="13.8" fill="#fff"/>
<path d="M987.25 872.90 L988.02 868.35 L984.98 868.35 L985.75 872.90ZM988.05 868.35A1.55 1.55 0 1 0 984.95 868.35A1.55 1.55 0 1 0 988.05 868.35ZM986.85 873.56 L991.23 872.11 L989.80 869.42 L986.15 872.24ZM992.07 870.76A1.55 1.55 0 1 0 988.97 870.76A1.55 1.55 0 1 0 992.07 870.76ZM986.15 873.56 L989.80 876.38 L991.23 873.69 L986.85 872.24ZM992.07 875.04A1.55 1.55 0 1 0 988.97 875.04A1.55 1.55 0 1 0 992.07 875.04ZM985.75 872.90 L984.98 877.45 L988.02 877.45 L987.25 872.90ZM988.05 877.45A1.55 1.55 0 1 0 984.95 877.45A1.55 1.55 0 1 0 988.05 877.45ZM986.15 872.24 L981.77 873.69 L983.20 876.38 L986.85 873.56ZM984.03 875.04A1.55 1.55 0 1 0 980.93 875.04A1.55 1.55 0 1 0 984.03 875.04ZM986.85 872.24 L983.20 869.42 L981.77 872.11 L986.15 873.56ZM984.03 870.76A1.55 1.55 0 1 0 980.93 870.76A1.55 1.55 0 1 0 984.03 870.76Z" fill="#000"/>
<rect x="1329.10" y="1120.20" width="13.4" height="13.8" fill="#fff"/>
<path d="M1336.55 1127.10 L1337.32 1122.55 L1334.28 1122.55 L1335.05 1127.10ZM1337.35 1122.55A1.55 1.55 0 1 0 1334.25 1122.55A1.55 1.55 0 1 0 1337.35 1122.55ZM1336.15 1127.76 L1340.53 1126.31 L1339.10 1123.62 L1335.45 1126.44ZM1341.37 1124.96A1.55 1.55 0 1 0 1338.27 1124.96A1.55 1.55 0 1 0 1341.37 1124.96ZM1335.45 1127.76 L1339.10 1130.58 L1340.53 1127.89 L1336.15 1126.44ZM1341.37 1129.24A1.55 1.55 0 1 0 1338.27 1129.24A1.55 1.55 0 1 0 1341.37 1129.24ZM1335.05 1127.10 L1334.28 1131.65 L1337.32 1131.65 L1336.55 1127.10ZM1337.35 1131.65A1.55 1.55 0 1 0 1334.25 1131.65A1.55 1.55 0 1 0 1337.35 1131.65ZM1335.45 1126.44 L1331.07 1127.89 L1332.50 1130.58 L1336.15 1127.76ZM1333.33 1129.24A1.55 1.55 0 1 0 1330.23 1129.24A1.55 1.55 0 1 0 1333.33 1129.24ZM1336.15 1126.44 L1332.50 1123.62 L1331.07 1126.31 L1335.45 1127.76ZM1333.33 1124.96A1.55 1.55 0 1 0 1330.23 1124.96A1.55 1.55 0 1 0 1333.33 1124.96Z" fill="#000"/>
<line x1="902.8" y1="1373.5" x2="960.8" y2="1373.5" stroke="#4472C4" stroke-width="7" stroke-linecap="round"/>
<rect x="923.05" y="1364.75" width="17.5" height="17.5" fill="#4472C4"/>
<text x="966.50" y="1382.30" font-size="27" fill="#595959" color="#595959" text-anchor="start">Noncancer group</text>
<line x1="1194.5" y1="1373.5" x2="1252.5" y2="1373.5" stroke="#ED7D31" stroke-width="7" stroke-linecap="round"/>
<circle cx="1223.50" cy="1373.5" r="8.75" fill="#ED7D31"/>
<text x="1258.90" y="1382.30" font-size="27" fill="#595959" color="#595959" text-anchor="start">Cancer group</text>
<rect x="105.2" y="1949.50" width="682.60" height="2" fill="#D9D9D9"/>
<rect x="105.2" y="1907.69" width="682.60" height="2" fill="#D9D9D9"/>
<rect x="105.2" y="1865.88" width="682.60" height="2" fill="#D9D9D9"/>
<rect x="105.2" y="1824.07" width="682.60" height="2" fill="#D9D9D9"/>
<rect x="105.2" y="1782.26" width="682.60" height="2" fill="#D9D9D9"/>
<rect x="105.2" y="1740.45" width="682.60" height="2" fill="#D9D9D9"/>
<rect x="105.2" y="1698.64" width="682.60" height="2" fill="#D9D9D9"/>
<rect x="105.2" y="1656.83" width="682.60" height="2" fill="#D9D9D9"/>
<rect x="105.2" y="1615.02" width="682.60" height="2" fill="#D9D9D9"/>
<rect x="105.2" y="1573.21" width="682.60" height="2" fill="#D9D9D9"/>
<rect x="105.2" y="1531.40" width="682.60" height="2" fill="#D9D9D9"/>
<text x="82.20" y="1959.30" font-size="27" fill="#595959" color="#595959" text-anchor="end">0</text>
<text x="82.20" y="1917.49" font-size="27" fill="#595959" color="#595959" text-anchor="end">10</text>
<text x="82.20" y="1875.68" font-size="27" fill="#595959" color="#595959" text-anchor="end">20</text>
<text x="82.20" y="1833.87" font-size="27" fill="#595959" color="#595959" text-anchor="end">30</text>
<text x="82.20" y="1792.06" font-size="27" fill="#595959" color="#595959" text-anchor="end">40</text>
<text x="82.20" y="1750.25" font-size="27" fill="#595959" color="#595959" text-anchor="end">50</text>
<text x="82.20" y="1708.44" font-size="27" fill="#595959" color="#595959" text-anchor="end">60</text>
<text x="82.20" y="1666.63" font-size="27" fill="#595959" color="#595959" text-anchor="end">70</text>
<text x="82.20" y="1624.82" font-size="27" fill="#595959" color="#595959" text-anchor="end">80</text>
<text x="82.20" y="1583.01" font-size="27" fill="#595959" color="#595959" text-anchor="end">90</text>
<text x="82.20" y="1541.20" font-size="27" fill="#595959" color="#595959" text-anchor="end">100</text>
<text x="173.46" y="1986.50" font-size="27" fill="#595959" color="#595959" text-anchor="middle">0</text>
<text x="309.98" y="1986.50" font-size="27" fill="#595959" color="#595959" text-anchor="middle">5</text>
<text x="446.50" y="1986.50" font-size="27" fill="#595959" color="#595959" text-anchor="middle">10</text>
<text x="583.02" y="1986.50" font-size="27" fill="#595959" color="#595959" text-anchor="middle">15</text>
<text x="719.54" y="1986.50" font-size="27" fill="#595959" color="#595959" text-anchor="middle">20</text>
<text x="272.50" y="2032.00" font-size="30" fill="#595959" color="#595959" text-anchor="start">Time after first EGD (years)</text>
<text transform="translate(21.00,1738.60) rotate(-90)" font-size="30.3" fill="#000" color="#000" text-anchor="middle">Incidence rate of map-like redness</text>
<text x="314.90" y="1465.80" font-size="36.3" fill="#595959" color="#595959" text-anchor="start">Map-like redness</text>
<text x="42.00" y="1476.80" font-size="50" fill="#000" color="#000" text-anchor="start">E</text>
<path d="M173.46 1943.81 L309.98 1929.60 L446.50 1912.87 L583.02 1893.64 L719.54 1904.09" stroke="#4472C4" stroke-width="6.75" fill="none" stroke-linejoin="round" stroke-linecap="round"/>
<rect x="163.26" y="1933.61" width="20.4" height="20.4" fill="#4472C4"/>
<rect x="299.78" y="1919.39" width="20.4" height="20.4" fill="#4472C4"/>
<rect x="436.30" y="1902.67" width="20.4" height="20.4" fill="#4472C4"/>
<rect x="572.82" y="1883.44" width="20.4" height="20.4" fill="#4472C4"/>
<rect x="709.34" y="1893.89" width="20.4" height="20.4" fill="#4472C4"/>
<path d="M173.46 1913.29 L309.98 1902.84 L446.50 1826.74 L583.02 1814.62 L719.54 1890.71" stroke="#ED7D31" stroke-width="6.75" fill="none" stroke-linejoin="round" stroke-linecap="round"/>
<circle cx="173.46" cy="1913.29" r="10.2" fill="#ED7D31"/>
<circle cx="309.98" cy="1902.84" r="10.2" fill="#ED7D31"/>
<circle cx="446.50" cy="1826.74" r="10.2" fill="#ED7D31"/>
<circle cx="583.02" cy="1814.62" r="10.2" fill="#ED7D31"/>
<circle cx="719.54" cy="1890.71" r="10.2" fill="#ED7D31"/>
<text x="173.46" y="1886.09" font-size="24" fill="#404040" color="#404040" text-anchor="middle">8.9</text>
<text x="309.98" y="1875.64" font-size="24" fill="#404040" color="#404040" text-anchor="middle">11.4</text>
<text x="446.50" y="1799.54" font-size="24" fill="#404040" color="#404040" text-anchor="middle">29.6</text>
<text x="583.02" y="1787.42" font-size="24" fill="#404040" color="#404040" text-anchor="middle">32.5</text>
<text x="719.54" y="1863.51" font-size="24" fill="#404040" color="#404040" text-anchor="middle">14.3</text>
<text x="200.54" y="1953.11" font-size="24" fill="#404040" color="#404040" text-anchor="start">1.6</text>
<text x="337.80" y="1938.89" font-size="24" fill="#404040" color="#404040" text-anchor="start">5</text>
<text x="474.95" y="1922.17" font-size="24" fill="#404040" color="#404040" text-anchor="start">9</text>
<text x="610.10" y="1902.94" font-size="24" fill="#404040" color="#404040" text-anchor="start">13.6</text>
<text x="746.62" y="1913.39" font-size="24" fill="#404040" color="#404040" text-anchor="start">11.1</text>
<rect x="182.70" y="1851.40" width="13.4" height="13.8" fill="#fff"/>
<path d="M190.15 1858.30 L190.92 1853.75 L187.88 1853.75 L188.65 1858.30ZM190.95 1853.75A1.55 1.55 0 1 0 187.85 1853.75A1.55 1.55 0 1 0 190.95 1853.75ZM189.75 1858.96 L194.13 1857.51 L192.70 1854.82 L189.05 1857.64ZM194.97 1856.16A1.55 1.55 0 1 0 191.87 1856.16A1.55 1.55 0 1 0 194.97 1856.16ZM189.05 1858.96 L192.70 1861.78 L194.13 1859.09 L189.75 1857.64ZM194.97 1860.44A1.55 1.55 0 1 0 191.87 1860.44A1.55 1.55 0 1 0 194.97 1860.44ZM188.65 1858.30 L187.88 1862.85 L190.92 1862.85 L190.15 1858.30ZM190.95 1862.85A1.55 1.55 0 1 0 187.85 1862.85A1.55 1.55 0 1 0 190.95 1862.85ZM189.05 1857.64 L184.67 1859.09 L186.10 1861.78 L189.75 1858.96ZM186.93 1860.44A1.55 1.55 0 1 0 183.83 1860.44A1.55 1.55 0 1 0 186.93 1860.44ZM189.75 1857.64 L186.10 1854.82 L184.67 1857.51 L189.05 1858.96ZM186.93 1856.16A1.55 1.55 0 1 0 183.83 1856.16A1.55 1.55 0 1 0 186.93 1856.16Z" fill="#000"/>
<rect x="457.80" y="1764.40" width="13.4" height="13.8" fill="#fff"/>
<path d="M465.25 1771.30 L466.02 1766.75 L462.98 1766.75 L463.75 1771.30ZM466.05 1766.75A1.55 1.55 0 1 0 462.95 1766.75A1.55 1.55 0 1 0 466.05 1766.75ZM464.85 1771.96 L469.23 1770.51 L467.80 1767.82 L464.15 1770.64ZM470.07 1769.16A1.55 1.55 0 1 0 466.97 1769.16A1.55 1.55 0 1 0 470.07 1769.16ZM464.15 1771.96 L467.80 1774.78 L469.23 1772.09 L464.85 1770.64ZM470.07 1773.44A1.55 1.55 0 1 0 466.97 1773.44A1.55 1.55 0 1 0 470.07 1773.44ZM463.75 1771.30 L462.98 1775.85 L466.02 1775.85 L465.25 1771.30ZM466.05 1775.85A1.55 1.55 0 1 0 462.95 1775.85A1.55 1.55 0 1 0 466.05 1775.85ZM464.15 1770.64 L459.77 1772.09 L461.20 1774.78 L464.85 1771.96ZM462.03 1773.44A1.55 1.55 0 1 0 458.93 1773.44A1.55 1.55 0 1 0 462.03 1773.44ZM464.85 1770.64 L461.20 1767.82 L459.77 1770.51 L464.15 1771.96ZM462.03 1769.16A1.55 1.55 0 1 0 458.93 1769.16A1.55 1.55 0 1 0 462.03 1769.16Z" fill="#000"/>
<rect x="610.70" y="1750.20" width="13.4" height="13.8" fill="#fff"/>
<path d="M618.15 1757.10 L618.92 1752.55 L615.88 1752.55 L616.65 1757.10ZM618.95 1752.55A1.55 1.55 0 1 0 615.85 1752.55A1.55 1.55 0 1 0 618.95 1752.55ZM617.75 1757.76 L622.13 1756.31 L620.70 1753.62 L617.05 1756.44ZM622.97 1754.96A1.55 1.55 0 1 0 619.87 1754.96A1.55 1.55 0 1 0 622.97 1754.96ZM617.05 1757.76 L620.70 1760.58 L622.13 1757.89 L617.75 1756.44ZM622.97 1759.24A1.55 1.55 0 1 0 619.87 1759.24A1.55 1.55 0 1 0 622.97 1759.24ZM616.65 1757.10 L615.88 1761.65 L618.92 1761.65 L618.15 1757.10ZM618.95 1761.65A1.55 1.55 0 1 0 615.85 1761.65A1.55 1.55 0 1 0 618.95 1761.65ZM617.05 1756.44 L612.67 1757.89 L614.10 1760.58 L617.75 1757.76ZM614.93 1759.24A1.55 1.55 0 1 0 611.83 1759.24A1.55 1.55 0 1 0 614.93 1759.24ZM617.75 1756.44 L614.10 1753.62 L612.67 1756.31 L617.05 1757.76ZM614.93 1754.96A1.55 1.55 0 1 0 611.83 1754.96A1.55 1.55 0 1 0 614.93 1754.96Z" fill="#000"/>
<line x1="202.7" y1="2085.2" x2="260.7" y2="2085.2" stroke="#4472C4" stroke-width="7" stroke-linecap="round"/>
<rect x="222.95" y="2076.45" width="17.5" height="17.5" fill="#4472C4"/>
<text x="266.00" y="2094.10" font-size="27" fill="#595959" color="#595959" text-anchor="start">Noncancer group</text>
<line x1="493.2" y1="2085.2" x2="551.2" y2="2085.2" stroke="#ED7D31" stroke-width="7" stroke-linecap="round"/>
<circle cx="522.20" cy="2085.2" r="8.75" fill="#ED7D31"/>
<text x="556.90" y="2094.10" font-size="27" fill="#595959" color="#595959" text-anchor="start">Cancer group</text>
</svg></body></html>
